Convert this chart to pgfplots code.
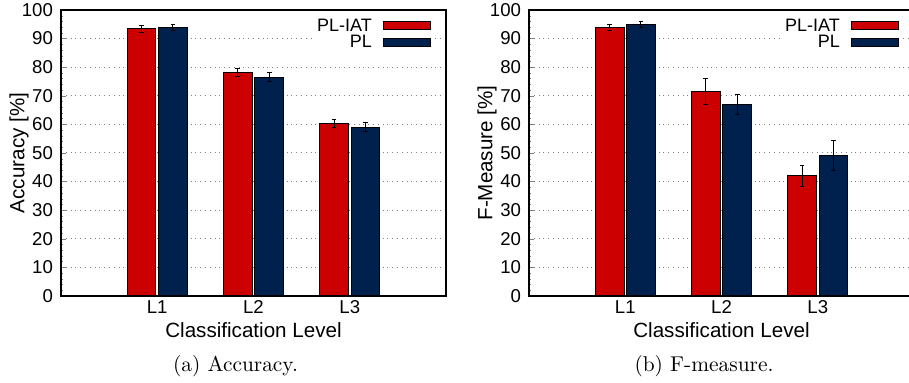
\documentclass[border=0pt]{standalone}
\usepackage{fontspec}
\usepackage{pgfplots}
\pgfplotsset{compat=1.18}
\setsansfont{Liberation Sans}
\definecolor{barred}{RGB}{204,0,0}
\definecolor{barblue}{RGB}{0,32,77}
\pgfplotsset{
  mybars/.style={
    scale only axis, width=192.5pt, height=143pt,
    xmin=0, xmax=4, ymin=0, ymax=100,
    ybar, bar width=0.3,
    xtick={1,2,3}, xticklabels={L1,L2,L3},
    x tick style={draw=none},
    ytick={0,10,...,100},
    minor y tick num=4,
    tick align=inside,
    major tick length=2.5pt, minor tick length=1.2pt,
    ytick pos=left,
    ymajorgrids,
    major grid style={gray, dotted, line width=0.5pt},
    tick label style={font=\sffamily\fontsize{9.3}{10}\selectfont},
    /pgf/number format/assume math mode=true,
    label style={font=\sffamily\fontsize{10.3}{12}\selectfont},
    xlabel={Classification Level},
    xlabel style={at={(axis description cs:0.5,-0.119)}, anchor=center},
    ylabel style={at={(axis description cs:-0.109,0.5)}, anchor=center},
    x tick label style={anchor=center, yshift=-5.5pt},
    y tick label style={xshift=-0.5pt},
    axis line style={line width=0.7pt},
    legend plot pos=right,
    legend cell align=right,
    legend style={at={(axis description cs:1,1)}, anchor=north east, xshift=-5.5pt, yshift=-1.5pt,
      draw=none, fill=white, inner sep=2pt,
      font=\sffamily\fontsize{9}{10}\selectfont,
      nodes={inner sep=0.4pt, text height=6.5pt, text depth=1pt},
      row sep=0pt, column sep=5pt},
    legend image code/.code={\draw[#1] (0pt,-2pt) rectangle (23.5pt,2pt);},
  },
  redbar/.style={fill=barred, draw=black, line width=0.5pt, bar shift=-0.163,
    error bars/.cd, y dir=both, y explicit,
    error bar style={black, line width=0.5pt},
    error mark options={rotate=90, mark size=1.2pt, black, line width=0.5pt}},
  bluebar/.style={fill=barblue, draw=black, line width=0.5pt, bar shift=0.163,
    error bars/.cd, y dir=both, y explicit,
    error bar style={black, line width=0.5pt},
    error mark options={rotate=90, mark size=1.2pt, black, line width=0.5pt}},
}
\begin{document}
\begin{tikzpicture}
\begin{axis}[mybars, at={(30.5pt,43.5pt)}, anchor=south west, ylabel={Accuracy [\%]}]
\addplot[redbar] coordinates {(1,93.4) +- (0,1.1) (2,78.2) +- (0,1.4) (3,60.4) +- (0,1.4)};
\addlegendentry{PL-IAT}
\addplot[bluebar] coordinates {(1,94.0) +- (0,1.0) (2,76.5) +- (0,1.5) (3,59.0) +- (0,1.5)};
\addlegendentry{PL}
\end{axis}
\begin{axis}[mybars, at={(264.5pt,43.5pt)}, anchor=south west, ylabel={F-Measure [\%]}]
\addplot[redbar] coordinates {(1,93.8) +- (0,1.0) (2,71.4) +- (0,4.6) (3,42.0) +- (0,3.6)};
\addlegendentry{PL-IAT}
\addplot[bluebar] coordinates {(1,94.9) +- (0,1.0) (2,67.0) +- (0,3.5) (3,49.2) +- (0,5.2)};
\addlegendentry{PL}
\end{axis}
\node[font=\rmfamily\fontsize{10.7}{12}\selectfont] at (117.75pt,8.5pt) {(a) Accuracy.};
\node[font=\rmfamily\fontsize{10.7}{12}\selectfont] at (352pt,8.5pt) {(b) F-measure.};
\pgfresetboundingbox
\path[use as bounding box] (0pt,0pt) rectangle (454.5pt,191.5pt);
\end{tikzpicture}
\end{document}
